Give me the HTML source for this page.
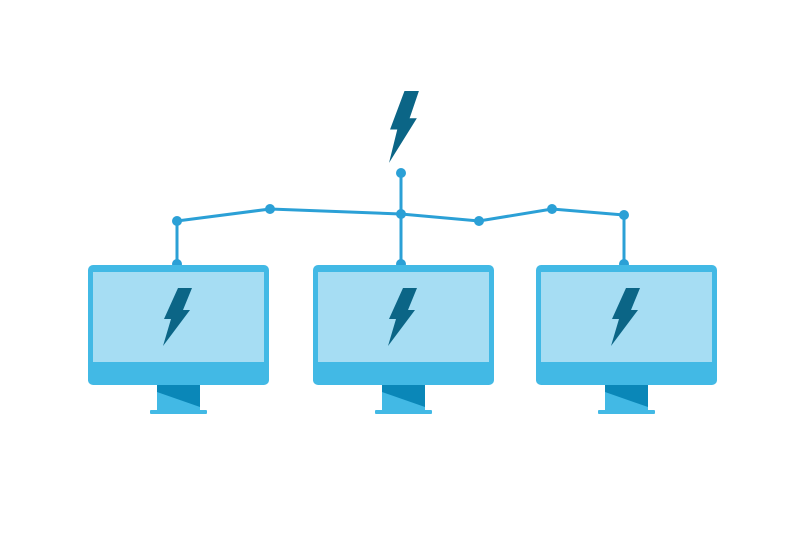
<!DOCTYPE html>
<html><head><style>html,body{margin:0;background:#fff}</style></head><body>
<svg width="808" height="554" viewBox="0 0 808 554" xmlns="http://www.w3.org/2000/svg">
<defs>
<path id="b" d="M16,0 L30,0 L21,22 L28,22 L1,58 L9,31 L2,31 Z" fill="#0b6586"/>
<g id="m">
<rect x="0" y="0" width="181" height="120" rx="5" fill="#42b9e5"/>
<rect x="5" y="7" width="171" height="90" fill="#a6ddf3"/>
<rect x="69" y="120" width="43" height="26" fill="#42b9e5"/>
<polygon points="69,120 112,120 112,142 69,127" fill="#0a87b8"/>
<rect x="62" y="145" width="57" height="4" rx="1" fill="#42b9e5"/>
<use href="#b" x="74" y="23"/>
</g>
</defs>
<g stroke="#2ba0d6" stroke-width="3" fill="none">
<polyline points="177,221 270,209 401,214 479,221 552,209 624,215"/>
<line x1="177" y1="221" x2="177" y2="265"/>
<line x1="401" y1="173" x2="401" y2="265"/>
<line x1="624" y1="215" x2="624" y2="265"/>
</g>
<g fill="#2ba0d6">
<circle cx="177" cy="221" r="5"/><circle cx="270" cy="209" r="5"/><circle cx="401" cy="214" r="5"/>
<circle cx="479" cy="221" r="5"/><circle cx="552" cy="209" r="5"/><circle cx="624" cy="215" r="5"/>
<circle cx="401" cy="173" r="5"/>
<circle cx="177" cy="264" r="5"/><circle cx="401" cy="264" r="5"/><circle cx="624" cy="264" r="5"/>
</g>
<use href="#m" x="88" y="265"/>
<use href="#m" x="313" y="265"/>
<use href="#m" x="536" y="265"/>
<use href="#b" transform="translate(388,91) scale(1.03,1.24)"/>
</svg>
</body></html>
